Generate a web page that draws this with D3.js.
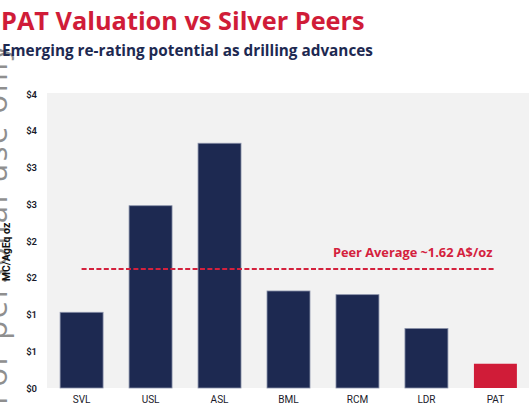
<!DOCTYPE html>
<html>
<head>
<meta charset="utf-8">
<script src="https://cdn.jsdelivr.net/npm/d3@7"></script>
<style>
  html, body { margin: 0; padding: 0; background: #fff; }
  svg { display: block; }
</style>
</head>
<body>
<script>
const categories = ["SVL", "USL", "ASL", "BML", "RCM", "LDR", "PAT"];
const values = [1.03, 2.48, 3.33, 1.32, 1.27, 0.81, 0.33];
const highlight = "PAT";
const peerAverage = 1.62;
const peerLabel = "Peer Average ~1.62 A$/oz";
const yTicks = [0, 0.5, 1, 1.5, 2, 2.5, 3, 3.5, 4];
const title = "PAT Valuation vs Silver Peers";
const subtitle = "Emerging re-rating potential as drilling advances";
const yAxisLabel = "MC/AgEq oz";
const watermark = "For personal use only";

const W = 529, H = 415;
const plot = { left: 47, right: 530, top: 93, bottom: 388 };
const navy = "#1d2951", red = "#d01c38";

const svg = d3.select("body").append("svg").attr("width", W).attr("height", H);

// plot background
svg.append("rect")
  .attr("x", plot.left).attr("y", plot.top)
  .attr("width", plot.right - plot.left).attr("height", plot.bottom - plot.top)
  .attr("fill", "#f2f2f2");

const x = d3.scaleBand().domain(categories).range([plot.left, plot.right])
  .paddingInner(0.377).paddingOuter(0.19);
const y = d3.scaleLinear().domain([0, 4]).range([plot.bottom, plot.top + 1]);

// watermark
svg.append("text")
  .attr("transform", `translate(7,405) rotate(-90)`)
  .attr("font-family", "Open Sans, sans-serif")
  .attr("font-size", 31)
  .attr("fill", "#8f8f8f")
  .attr("textLength", 360)
  .attr("lengthAdjust", "spacing")
  .text(watermark);

// bars
svg.append("g").selectAll("rect").data(categories).join("rect")
  .attr("x", d => x(d))
  .attr("y", (d, i) => y(values[i]))
  .attr("width", x.bandwidth())
  .attr("height", (d, i) => y(0) - y(values[i]))
  .attr("fill", d => d === highlight ? red : navy)
  .attr("stroke", d => d === highlight ? "none" : "#8a92aa")
  .attr("stroke-width", 0.8);

// y axis
const yAxis = d3.axisLeft(y).tickValues(yTicks).tickFormat(d3.format("$.0f")).tickSize(0).tickPadding(0);
const yg = svg.append("g").attr("transform", `translate(37,0)`).call(yAxis);
yg.select(".domain").remove();
yg.selectAll("text")
  .attr("font-family", "Roboto, sans-serif").attr("font-size", 9.5)
  .attr("font-weight", 600).attr("fill", "#1a1a2a");

// x axis
const xAxis = d3.axisBottom(x).tickSize(0).tickPadding(0);
const xg = svg.append("g").attr("transform", `translate(0,${plot.bottom + 8})`).call(xAxis);
xg.select(".domain").remove();
xg.selectAll("text")
  .attr("font-family", "Roboto, sans-serif").attr("font-size", 10)
  .attr("fill", "#1a1a2a");

// y-axis label
svg.append("text")
  .attr("transform", `translate(10,252) rotate(-90)`)
  .attr("text-anchor", "middle")
  .attr("font-family", "Roboto, sans-serif").attr("font-size", 10.5)
  .attr("font-weight", 700).attr("fill", "#111")
  .text(yAxisLabel);

// peer average line
const first = categories[0], last = categories[categories.length - 1];
svg.append("line")
  .attr("x1", x(first) + x.bandwidth() / 2)
  .attr("x2", x(last) + x.bandwidth() / 2)
  .attr("y1", y(peerAverage)).attr("y2", y(peerAverage))
  .attr("stroke", "#d4213d").attr("stroke-width", 2)
  .attr("stroke-dasharray", "5,2.4");

svg.append("text")
  .attr("x", x(last) + x.bandwidth() / 2 - 3)
  .attr("y", y(peerAverage) - 12)
  .attr("text-anchor", "end")
  .attr("font-family", "Open Sans, sans-serif").attr("font-size", 12.8)
  .attr("font-weight", 700).attr("fill", "#d4213d")
  .text(peerLabel);

// title & subtitle
svg.append("text")
  .attr("x", 1).attr("y", 30)
  .attr("font-family", "Open Sans, sans-serif").attr("font-size", 25.3)
  .attr("font-weight", 700).attr("fill", "#d01c38")
  .text(title);
svg.append("text")
  .attr("x", 2).attr("y", 56)
  .attr("font-family", "Open Sans, sans-serif").attr("font-size", 15.3)
  .attr("font-weight", 700).attr("fill", navy)
  .text(subtitle);
</script>
</body>
</html>
